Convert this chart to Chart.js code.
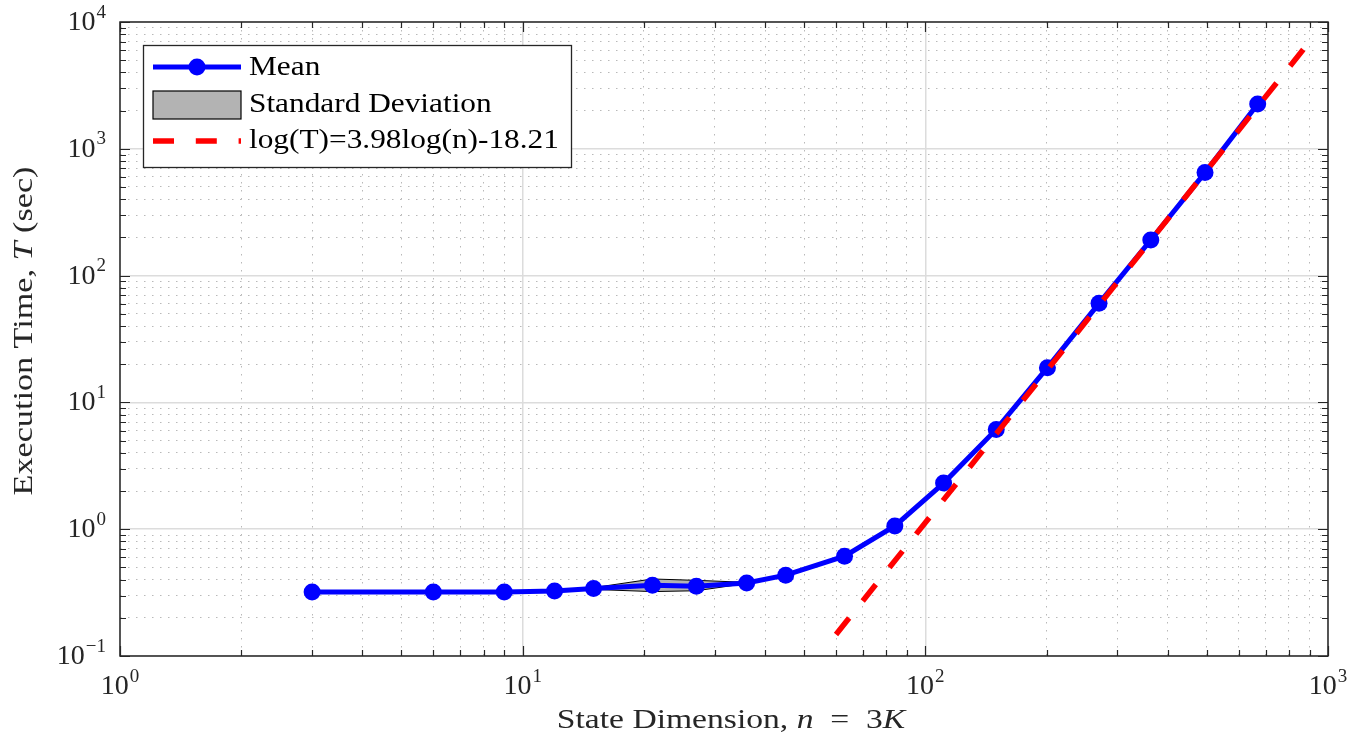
<!DOCTYPE html>
<html>
<head>
<meta charset="utf-8">
<script src="https://cdn.jsdelivr.net/npm/chart.js@4.4.1/dist/chart.umd.min.js"></script>
<style>
  body { margin: 0; background: #fff; }
</style>
</head>
<body>
<canvas id="chart" width="1362" height="737"></canvas>
<script>
// state dimension n = 3K
var stateDim = [3, 6, 9, 12, 15, 21, 27, 36, 45, 63, 84, 111, 150, 201, 270, 363, 495, 669];
// mean execution time (sec)
var meanTime = [0.320, 0.320, 0.320, 0.326, 0.340, 0.361, 0.355, 0.377, 0.434, 0.612, 1.06, 2.31, 6.12, 18.8, 60.4, 191, 649, 2260];
// mean +/- standard deviation (only visible for a few points)
var stdUpper = [0.321, 0.321, 0.321, 0.327, 0.346, 0.405, 0.395, 0.381, 0.436, 0.614, 1.06, 2.32, 6.14, 18.9, 60.6, 192, 651, 2270];
var stdLower = [0.319, 0.319, 0.319, 0.325, 0.335, 0.322, 0.327, 0.373, 0.432, 0.610, 1.05, 2.30, 6.10, 18.7, 60.2, 190, 647, 2250];
// fitted line log(T) = 3.98 log(n) - 18.21, endpoints as drawn
var fitDim = [60, 871];
var fitTime = [0.148, 6150];
// decade tick labels (exponents of 10)
var xExps = [0, 1, 2, 3];
var yExps = [-1, 0, 1, 2, 3, 4];

var textColor = '#262626';
var serif = '"Liberation Serif"';

function pts(xs, ys) {
   return xs.map(function (x, i) { return {x: x, y: ys[i]}; });
}

function isDecade(v) {
   var l = Math.log10(v);
   return Math.abs(l - Math.round(l)) < 1e-6;
}

function logTicks(scale) {
   var lo = Math.round(Math.log10(scale.min)), hi = Math.round(Math.log10(scale.max));
   var out = [];
   for (var e = lo; e < hi; e++) {
      for (var m = 1; m < 10; m++) out.push({value: m * Math.pow(10, e)});
   }
   out.push({value: Math.pow(10, hi)});
   scale.ticks = out;
}

var gridOpts = {
   drawTicks: false,
   lineWidth: function (c) { return c.tick && isDecade(c.tick.value) ? 1.5 : 1; },
   color: function (c) { return c.tick && isDecade(c.tick.value) ? '#dcdcdc' : '#b9b9b9'; }
};
var borderOpts = {
   display: false,
   dash: function (c) { return c.tick && !isDecade(c.tick.value) ? [1.5, 6.5] : []; }
};

// text with horizontal stretch (to mimic the wide LaTeX font)
function stretchText(ctx, parts, x, y, align, rot, stretch) {
   var total = 0;
   parts.forEach(function (p) { ctx.font = p[1]; total += ctx.measureText(p[0]).width * stretch; });
   ctx.save();
   ctx.translate(x, y);
   if (rot) ctx.rotate(rot);
   var start = align === 'center' ? -total / 2 : 0;
   ctx.textAlign = 'left';
   ctx.textBaseline = 'alphabetic';
   parts.forEach(function (p) {
      ctx.font = p[1];
      ctx.save();
      ctx.translate(start, 0);
      ctx.scale(stretch, 1);
      ctx.fillText(p[0], 0, 0);
      ctx.restore();
      start += ctx.measureText(p[0]).width * stretch;
   });
   ctx.restore();
}

function powLabel(ctx, e, x, y, align) {
   var base = '10', sup = e < 0 ? '\u2212' + (-e) : String(e);
   ctx.font = '28px ' + serif;
   var wb = ctx.measureText(base).width;
   ctx.font = '19px ' + serif;
   var ws = ctx.measureText(sup).width;
   var w = wb + ws + 1;
   var sx = align === 'center' ? x - w / 2 : x - w;
   ctx.textAlign = 'left';
   ctx.textBaseline = 'alphabetic';
   ctx.font = '28px ' + serif;
   ctx.fillText(base, sx, y);
   ctx.font = '19px ' + serif;
   ctx.fillText(sup, sx + wb + 1, y - 12.5);
}

var axesDecor = {
   id: 'axesDecor',
   afterDatasetsDraw: function (chart) {
      var ctx = chart.ctx, a = chart.chartArea, xs = chart.scales.x, ys = chart.scales.y;
      ctx.save();
      ctx.strokeStyle = textColor;
      ctx.lineWidth = 1.5;
      ctx.strokeRect(a.left, a.top, a.right - a.left, a.bottom - a.top);
      ctx.lineWidth = 1.2;
      ctx.beginPath();
      xs.ticks.forEach(function (t) {
         var px = Math.round(xs.getPixelForValue(t.value)) + 0.5;
         var len = isDecade(t.value) ? 10 : 6;
         ctx.moveTo(px, a.bottom); ctx.lineTo(px, a.bottom - len);
         ctx.moveTo(px, a.top); ctx.lineTo(px, a.top + len);
      });
      ys.ticks.forEach(function (t) {
         var py = Math.round(ys.getPixelForValue(t.value)) + 0.5;
         var len = isDecade(t.value) ? 10 : 6;
         ctx.moveTo(a.left, py); ctx.lineTo(a.left + len, py);
         ctx.moveTo(a.right, py); ctx.lineTo(a.right - len, py);
      });
      ctx.stroke();

      // tick labels
      ctx.fillStyle = textColor;
      xExps.forEach(function (e) {
         powLabel(ctx, e, xs.getPixelForValue(Math.pow(10, e)), a.bottom + 38, 'center');
      });
      yExps.forEach(function (e) {
         powLabel(ctx, e, a.left - 14, ys.getPixelForValue(Math.pow(10, e)) + 8, 'right');
      });

      // axis titles
      var reg = '28px ' + serif, ita = 'italic 28px ' + serif;
      stretchText(ctx, [['State Dimension, ', reg], ['n', ita], ['  =  3', reg], ['K', ita]],
         731, 728, 'center', 0, 1.2);
      stretchText(ctx, [['Execution Time, ', reg], ['T', ita], [' (sec)', reg]],
         32, 331, 'center', -Math.PI / 2, 1.22);
      ctx.restore();
   },
   afterDraw: function (chart) {
      // legend box
      var ctx = chart.ctx;
      var lx = 143.5, ly = 45.5, lw = 428, lh = 122;
      ctx.save();
      ctx.fillStyle = '#fff';
      ctx.fillRect(lx, ly, lw, lh);
      ctx.strokeStyle = textColor;
      ctx.lineWidth = 1.3;
      ctx.strokeRect(lx, ly, lw, lh);

      // mean
      ctx.strokeStyle = '#0000ff';
      ctx.lineWidth = 5;
      ctx.beginPath(); ctx.moveTo(153, 67); ctx.lineTo(241, 67); ctx.stroke();
      ctx.fillStyle = '#0000ff';
      ctx.beginPath(); ctx.arc(197, 67, 8.5, 0, Math.PI * 2); ctx.fill();
      // std
      ctx.fillStyle = '#b3b3b3';
      ctx.fillRect(153, 91, 88, 28);
      ctx.strokeStyle = '#000';
      ctx.lineWidth = 1.2;
      ctx.strokeRect(153, 91, 88, 28);
      // fit
      ctx.strokeStyle = '#ff0000';
      ctx.lineWidth = 5.5;
      ctx.setLineDash([21, 21.8]);
      ctx.beginPath(); ctx.moveTo(153, 141); ctx.lineTo(241, 141); ctx.stroke();
      ctx.setLineDash([]);

      ctx.fillStyle = '#000';
      var f = '27px ' + serif;
      stretchText(ctx, [['Mean', f]], 249, 75, 'left', 0, 1.16);
      stretchText(ctx, [['Standard Deviation', f]], 249, 112, 'left', 0, 1.16);
      stretchText(ctx, [['log(T)=3.98log(n)-18.21', f]], 249, 148, 'left', 0, 1.16);
      ctx.restore();
   }
};

var ctx = document.getElementById('chart').getContext('2d');

var myChart = new Chart(ctx, {
   type: 'line',
   data: {
      datasets: [{
         label: 'log(T)=3.98log(n)-18.21',
         data: pts(fitDim, fitTime),
         borderColor: '#ff0000',
         borderWidth: 5.5,
         borderDash: [21, 21.8],
         pointRadius: 0,
         fill: false,
         order: 0
      }, {
         label: 'Mean',
         data: pts(stateDim, meanTime),
         borderColor: '#0000ff',
         backgroundColor: '#0000ff',
         borderWidth: 5,
         pointRadius: 8.5,
         pointBorderWidth: 0,
         pointBackgroundColor: '#0000ff',
         fill: false,
         order: 1
      }, {
         label: 'Standard Deviation',
         data: pts(stateDim, stdUpper),
         borderColor: '#000',
         borderWidth: 1,
         backgroundColor: '#b3b3b3',
         pointRadius: 0,
         fill: '+1',
         order: 3
      }, {
         label: 'std lower',
         data: pts(stateDim, stdLower),
         borderColor: '#000',
         borderWidth: 1,
         pointRadius: 0,
         fill: false,
         order: 2
      }]
   },
   options: {
      responsive: false,
      animation: false,
      events: [],
      layout: {
         padding: {left: 120, right: 34, top: 22, bottom: 81}
      },
      plugins: {
         legend: {display: false},
         tooltip: {enabled: false}
      },
      scales: {
         x: {
            type: 'logarithmic',
            min: 1,
            max: 1000,
            afterBuildTicks: logTicks,
            ticks: {display: false},
            grid: gridOpts,
            border: borderOpts
         },
         y: {
            type: 'logarithmic',
            min: 0.1,
            max: 10000,
            afterBuildTicks: logTicks,
            ticks: {display: false},
            grid: gridOpts,
            border: borderOpts
         }
      }
   },
   plugins: [axesDecor]
});
</script>
</body>
</html>
